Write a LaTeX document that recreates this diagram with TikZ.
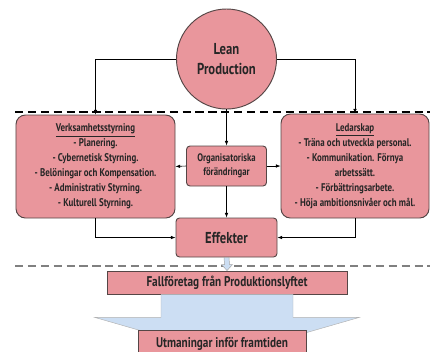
\documentclass[tikz,border=0pt]{standalone}
\usepackage{fontspec}
\setmainfont{PT Sans}[FakeStretch=0.8]
\usepackage{tikz}
\usetikzlibrary{arrows.meta}
\usetikzlibrary{calc}
\definecolor{leanpink}{RGB}{233,150,156}
\definecolor{arrowblue}{RGB}{204,222,243}
\definecolor{boxline}{RGB}{85,70,70}

\begin{document}
\begin{tikzpicture}[x=0.03cm, y=-0.03cm,
    box style/.style={draw=boxline, fill=leanpink, line width=0.8pt, rounded corners=8pt, align=center, text=black!85, inner sep=2pt, font=\bfseries\fontsize{9.5}{12.8}\selectfont},
    small box/.style={box style, rounded corners=3pt},
    flow/.style={-{Latex[length=4pt,width=3pt]}, line width=0.5pt},
    sep line/.style={line width=1.4pt, dash pattern=on 7pt off 4pt}
]
\useasboundingbox (0,0) rectangle (430,351);

% separators
\draw[sep line] (15,112) -- (430,112);
\draw[sep line, gray] (15,266) -- (430,266);

\node[box style, circle, minimum size=3cm, font=\bfseries\fontsize{13.5}{17}\selectfont] (lean) at (226.5,59) {Lean\\Production};
\node[box style, minimum width=4.77cm, minimum height=3.09cm] (styr) at (95.5,166.5)
    {\underline{Verksamhetsstyrning}\\- Planering.\\- Cybernetisk Styrning.\\- Belöningar och Kompensation.\\- Administrativ Styrning.\\- Kulturell Styrning.};
\node[small box, minimum width=2.4cm, minimum height=1.2cm, font=\bfseries\fontsize{9.3}{12}\selectfont] (org) at (226.5,166)
    {Organisatoriska\\förändringar};
\node[box style, minimum width=4.44cm, minimum height=3.12cm] (ledar) at (355,166)
    {\underline{Ledarskap}\\- Träna och utveckla personal.\\- Kommunikation. Förnya\\arbetssätt.\\- Förbättringsarbete.\\- Höja ambitionsnivåer och mål.};
\node[small box, minimum width=3.03cm, minimum height=1.17cm, font=\bfseries\fontsize{13.5}{15}\selectfont] (eff) at (226.5,237.5) {Effekter};
\node[small box, rounded corners=0pt, minimum width=7.2cm, minimum height=0.69cm, font=\bfseries\fontsize{12}{14}\selectfont] (fall) at (227,282.5)
    {Fallföretag från Produktionslyftet};

% big arrow
\draw[fill=arrowblue, draw=gray!60, line width=0.4pt]
    ($(fall.south)+(-66,0)$) -- ($(fall.south)+(66,0)$) -- ($(fall.south)+(66,23)$)
    -- ($(fall.south)+(132,23)$) -- ($(fall.south)+(0,61)$) -- ($(fall.south)+(-132,23)$)
    -- ($(fall.south)+(-66,23)$) -- cycle;
\node[small box, rounded corners=0pt, minimum width=5.04cm, minimum height=0.78cm, anchor=north, font=\bfseries\fontsize{12}{14}\selectfont] (utm) at (222,330)
    {Utmaningar inför framtiden};

% connectors
\draw[flow] (lean.west) -| (styr.north);
\draw[flow] (lean.east) -| (ledar.north);
\draw[flow] (lean.south) -- (org.north);
\draw[flow] (org.west) -- (styr.east);
\draw[flow] (org.east) -- (ledar.west);
\draw[flow] (org.south) -- (eff.north);
\draw[flow] (styr.south) |- (eff.west);
\draw[flow] (ledar.south) |- (eff.east);
\draw[fill=arrowblue, draw=gray!70, line width=0.4pt]
    ($(eff.south)+(-2.5,0)$) -- ($(eff.south)+(2.5,0)$) -- ($(fall.north)+(2.5,-6)$)
    -- ($(fall.north)+(5.5,-6)$) -- (fall.north) -- ($(fall.north)+(-5.5,-6)$)
    -- ($(fall.north)+(-2.5,-6)$) -- cycle;
\end{tikzpicture}
\end{document}
